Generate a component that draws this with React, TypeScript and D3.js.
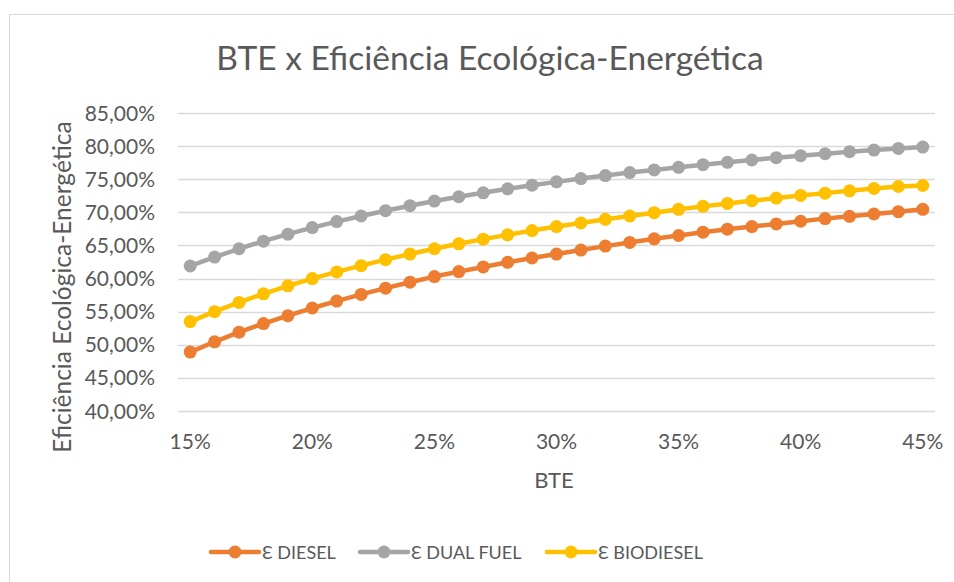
import React from "react";
import * as d3 from "d3";

const bte = [15, 16, 17, 18, 19, 20, 21, 22, 23, 24, 25, 26, 27, 28, 29, 30, 31, 32, 33, 34, 35, 36, 37, 38, 39, 40, 41, 42, 43, 44, 45];
const diesel = [48.9, 50.45, 51.9, 53.2, 54.4, 55.55, 56.6, 57.6, 58.55, 59.45, 60.3, 61.05, 61.75, 62.45, 63.1, 63.7, 64.3, 64.9, 65.45, 66.0, 66.5, 67.0, 67.45, 67.85, 68.25, 68.65, 69.05, 69.4, 69.75, 70.1, 70.45];
const dualFuel = [61.9, 63.25, 64.5, 65.65, 66.7, 67.7, 68.6, 69.45, 70.25, 71.0, 71.7, 72.35, 72.95, 73.55, 74.1, 74.6, 75.1, 75.55, 76.0, 76.4, 76.8, 77.2, 77.55, 77.9, 78.25, 78.55, 78.85, 79.15, 79.4, 79.65, 79.85];
const biodiesel = [53.5, 55.0, 56.4, 57.7, 58.9, 60.0, 61.0, 61.95, 62.85, 63.7, 64.5, 65.25, 65.95, 66.6, 67.25, 67.85, 68.4, 68.95, 69.45, 69.95, 70.45, 70.9, 71.35, 71.75, 72.15, 72.55, 72.9, 73.25, 73.6, 73.9, 74.05];
const xTicks = [15, 20, 25, 30, 35, 40, 45];
const yTicks = [40, 45, 50, 55, 60, 65, 70, 75, 80, 85];
const seriesNames = ["Ɛ DIESEL", "Ɛ DUAL FUEL", "Ɛ BIODIESEL"];
const seriesColors = ["#ED7D31", "#A5A5A5", "#FFC000"];
const title = "BTE x Eficiência Ecológica-Energética";
const xTitle = "BTE";
const yTitle = "Eficiência Ecológica-Energética";

const FONT = "Lato, 'Open Sans', sans-serif";
const TXT = "#595959";

export default function App() {
  const W = 954, H = 582;
  const x = d3.scaleLinear().domain([14.5, 45.5]).range([178, 935]);
  const y = d3.scaleLinear().domain([40, 85]).range([411, 113]);
  const line = d3.line<[number, number]>().x(d => x(d[0])).y(d => y(d[1]));
  const all = [diesel, dualFuel, biodiesel];
  const fmtY = (v: number) => v.toFixed(2).replace(".", ",") + "%";
  const legendX = [211, 360, 547];

  return (
    <svg width={W} height={H} style={{ position: "absolute", left: 0, top: 0, background: "#fff" }} fontFamily={FONT}>
      <rect x={9.5} y={14.5} width={1200} height={1200} fill="#fff" stroke="#d9d9d9" strokeWidth={1} />
      <text x={490} y={70} textAnchor="middle" fontSize={33.5} fill={TXT}>{title}</text>
      {yTicks.map(t => (
        <g key={t}>
          <line x1={178} x2={935} y1={Math.round(y(t)) + 0.5} y2={Math.round(y(t)) + 0.5} stroke="#d9d9d9" strokeWidth={1.3} />
          <text x={155} y={y(t) + 7.5} textAnchor="end" fontSize={21} fill={TXT}>{fmtY(t)}</text>
        </g>
      ))}
      {xTicks.map(t => (
        <text key={t} x={x(t)} y={449} textAnchor="middle" fontSize={21} fill={TXT}>{t + "%"}</text>
      ))}
      <text x={554} y={488} textAnchor="middle" fontSize={22} fill={TXT}>{xTitle}</text>
      <text transform={`translate(71,287) rotate(-90)`} textAnchor="middle" fontSize={24.5} fill={TXT}>{yTitle}</text>
      {all.map((s, i) => {
        const pts = bte.map((b, j) => [b, s[j]] as [number, number]);
        return (
          <g key={i}>
            <path d={line(pts) || ""} fill="none" stroke={seriesColors[i]} strokeWidth={4.5} strokeLinejoin="round" strokeLinecap="round" />
            {pts.map((p, j) => (
              <circle key={j} cx={x(p[0])} cy={y(p[1])} r={6.5} fill={seriesColors[i]} />
            ))}
          </g>
        );
      })}
      {seriesNames.map((n, i) => (
        <g key={n}>
          <line x1={legendX[i]} x2={legendX[i] + 48} y1={552} y2={552} stroke={seriesColors[i]} strokeWidth={4.5} strokeLinecap="round" />
          <circle cx={legendX[i] + 24} cy={552} r={6.5} fill={seriesColors[i]} />
          <text x={legendX[i] + 51} y={559} fontSize={18} fill={TXT}>{n}</text>
        </g>
      ))}
    </svg>
  );
}
